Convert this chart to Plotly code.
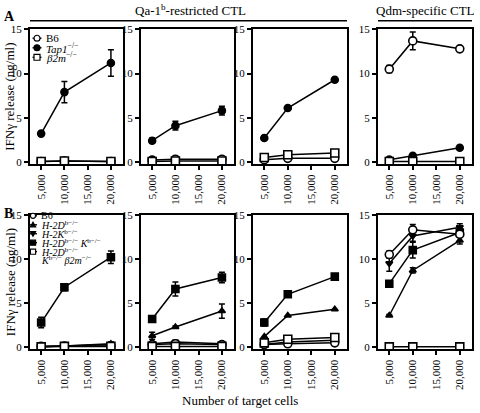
import plotly.graph_objects as go

cells = [5000, 10000, 20000]
x_ticks = [5000, 10000, 15000, 20000]
y_ticks = [0, 5, 10, 15]

# Row A: Qa-1b-restricted CTL (panels 1-3) and Qdm-specific CTL (panel 4)
A_B6 = [[0.05, 0.1, 0.05], [0.2, 0.3, 0.3], [0.25, 0.4, 0.4], [10.5, 13.7, 12.8]]
A_B6_err = [[0, 0, 0], [0.05, 0.05, 0.05], [0, 0, 0], [0.4, 1.0, 0.2]]
A_Tap1 = [[3.2, 7.9, 11.2], [2.4, 4.1, 5.8], [2.7, 6.1, 9.3], [0.25, 0.7, 1.6]]
A_Tap1_err = [[0.1, 1.2, 1.5], [0.3, 0.5, 0.5], [0, 0, 0], [0, 0, 0]]
A_b2m = [[0.05, 0.1, 0.05], [0.05, 0.1, 0.1], [0.5, 0.8, 1.0], [0.05, 0.05, 0.05]]

# Row B
B_B6 = [[0.1, 0.15, 0.15], [0.3, 0.4, 0.3], [0.3, 0.4, 0.5], [10.5, 13.3, 12.8]]
B_B6_err = [[0, 0, 0], [0, 0, 0], [0, 0, 0], [0.4, 0.6, 0.3]]
B_Db = [[0.1, 0.15, 0.4], [1.3, 2.3, 4.1], [1.2, 3.6, 4.3], [3.6, 8.7, 12.1]]
B_Db_err = [[0, 0, 0.2], [0.4, 0.1, 0.8], [0, 0, 0], [0.1, 0.3, 0.4]]
B_Kb = [[0.05, 0.15, 0.3], [0.4, 0.6, 0.4], [0.3, 0.6, 0.8], [9.5, 12.6, 13.6]]
B_Kb_err = [[0, 0, 0], [0.2, 0.2, 0.1], [0, 0, 0], [0.9, 0.6, 0.4]]
B_DbKb = [[2.8, 6.8, 10.2], [3.2, 6.6, 7.9], [2.8, 6.0, 8.0], [7.2, 11.0, 13.0]]
B_DbKb_err = [[0.6, 0.4, 0.7], [0.3, 0.8, 0.6], [0.4, 0.1, 0.1], [0.1, 0.9, 0.5]]
B_triple = [[0.05, 0.1, 0.1], [0.1, 0.1, 0.1], [0.5, 0.9, 1.1], [0.05, 0.05, 0.05]]

names_A = ["B6", "<i>Tap1</i><sup>−/−</sup>", "<i>β2m</i><sup>−/−</sup>"]
names_B = ["B6", "<i>H-2D</i><sup>b−/−</sup>", "<i>H-2K</i><sup>b−/−</sup>",
           "<i>H-2D</i><sup>b−/−</sup> <i>K</i><sup>b−/−</sup>",
           "<i>H-2D</i><sup>b−/−</sup><br><i>K</i><sup>b−/−</sup> <i>β2m</i><sup>−/−</sup>"]

W, H = 480, 413
FONT = "Liberation Serif"
xdom = [(30, 123), (141, 234), (253, 347), (378, 472)]
ydomA = (24, 162)
ydomB = (214, 352)

fig = go.Figure()


def PX(x):
    return x / W


def PY(y):
    return 1 - y / H


def add(idx, y, err, name, symbol, fill, size=7):
    ax = "" if idx == 1 else str(idx)
    fig.add_trace(go.Scatter(
        x=cells, y=y, name=name, mode="lines+markers",
        xaxis="x" + ax, yaxis="y" + ax,
        line=dict(color="black", width=1.5),
        marker=dict(symbol=symbol, size=size, color=fill,
                    line=dict(color="black", width=1.6)),
        error_y=dict(type="data", array=err, color="black", thickness=1.5, width=3,
                     visible=any(e > 0 for e in err)),
        showlegend=False,
    ))


for p in range(4):
    i = p + 1
    add(i, A_Tap1[p], A_Tap1_err[p], names_A[1], "circle", "black", 7)
    add(i, A_B6[p], A_B6_err[p], names_A[0], "circle", "white", 8)
    add(i, A_b2m[p], [0, 0, 0], names_A[2], "square", "white", 8)

for p in range(4):
    i = p + 5
    add(i, B_Db[p], B_Db_err[p], names_B[1], "triangle-up", "black", 6)
    add(i, B_Kb[p], B_Kb_err[p], names_B[2], "triangle-down", "black", 6)
    add(i, B_DbKb[p], B_DbKb_err[p], names_B[3], "square", "black", 7)
    add(i, B_B6[p], B_B6_err[p], names_B[0], "circle", "white", 8)
    add(i, B_triple[p], [0, 0, 0], names_B[4], "square", "white", 8)

axis_common = dict(showline=True, linecolor="black", linewidth=2, mirror=True,
                   ticks="outside", ticklen=4, tickwidth=1.5, tickcolor="black",
                   showgrid=False, zeroline=False,
                   tickfont=dict(family=FONT, size=11, color="black"))

layout = dict(width=W, height=H, margin=dict(l=0, r=0, t=0, b=0),
              paper_bgcolor="white", plot_bgcolor="white",
              font=dict(family=FONT, color="black"), showlegend=False)

for k in range(8):
    i = k + 1
    ax = "" if i == 1 else str(i)
    xd = xdom[k % 4]
    yd = ydomA if k < 4 else ydomB
    layout["xaxis" + ax] = dict(axis_common, domain=[PX(xd[0]), PX(xd[1])], range=[2600, 22600],
                                tickvals=x_ticks, tickformat=",d", tickangle=-90,
                                anchor="y" + ax)
    layout["yaxis" + ax] = dict(axis_common, domain=[PY(yd[1]), PY(yd[0])], range=[-0.25, 15],
                                tickvals=y_ticks, anchor="x" + ax)

fig.update_layout(**layout)

# ---- compact in-panel legends (key glyphs as decoration shapes) ----
shapes = []
ann = []


def key(mx, my, symbol, fill, label, tx, r=2.6, fs=10, half=4):
    shapes.append(dict(type="line", xref="paper", yref="paper",
                       x0=PX(mx - half), x1=PX(mx + half), y0=PY(my), y1=PY(my),
                       line=dict(color="black", width=1.3)))
    st = dict(xref="paper", yref="paper", fillcolor=fill,
              line=dict(color="black", width=1.2))
    if symbol == "circle":
        shapes.append(dict(st, type="circle", x0=PX(mx - r), x1=PX(mx + r),
                           y0=PY(my + r), y1=PY(my - r)))
    elif symbol == "square":
        shapes.append(dict(st, type="rect", x0=PX(mx - r), x1=PX(mx + r),
                           y0=PY(my + r), y1=PY(my - r)))
    elif symbol == "triangle-up":
        path = "M {},{} L {},{} L {},{} Z".format(PX(mx - r), PY(my + r * 0.8),
                                                  PX(mx + r), PY(my + r * 0.8),
                                                  PX(mx), PY(my - r))
        shapes.append(dict(st, type="path", path=path))
    elif symbol == "triangle-down":
        path = "M {},{} L {},{} L {},{} Z".format(PX(mx - r), PY(my - r * 0.8),
                                                  PX(mx + r), PY(my - r * 0.8),
                                                  PX(mx), PY(my + r))
        shapes.append(dict(st, type="path", path=path))
    ann.append(dict(text=label, x=PX(tx), y=PY(my), xref="paper", yref="paper",
                    xanchor="left", yanchor="middle", showarrow=False, align="left",
                    font=dict(family=FONT, size=fs, color="black")))


legA = [("circle", "white"), ("circle", "black"), ("square", "white")]
for j, (sym, fill) in enumerate(legA):
    key(37, 33 + 9.8 * j, sym, fill, names_A[j], 44, r=3.0, fs=11, half=4.5)

legB = [("circle", "white"), ("triangle-up", "black"), ("triangle-down", "black"),
        ("square", "black"), ("square", "white")]
for j, (sym, fill) in enumerate(legB):
    my = 215 + 9.2 * j
    if j == 4:
        key(33, my, sym, fill, "<i>H-2D</i><sup>b−/−</sup>", 39)
        ann.append(dict(text="<i>K</i><sup>b−/−</sup> <i>β2m</i><sup>−/−</sup>",
                        x=PX(39), y=PY(my + 9), xref="paper", yref="paper",
                        xanchor="left", yanchor="middle", showarrow=False,
                        font=dict(family=FONT, size=10, color="black")))
    else:
        key(33, my, sym, fill, names_B[j], 39)

ann.append(dict(text="<b>A</b>", x=PX(2), y=PY(1), xref="paper", yref="paper",
                xanchor="left", yanchor="top", showarrow=False,
                font=dict(family=FONT, size=14)))
ann.append(dict(text="<b>B</b>", x=PX(2), y=PY(203), xref="paper", yref="paper",
                xanchor="left", yanchor="top", showarrow=False,
                font=dict(family=FONT, size=14)))
ann.append(dict(text="Qa-1<sup>b</sup>-restricted CTL", x=PX(190), y=PY(14),
                xref="paper", yref="paper", xanchor="center", yanchor="bottom",
                showarrow=False, font=dict(family=FONT, size=13)))
ann.append(dict(text="Qdm-specific CTL", x=PX(425), y=PY(14),
                xref="paper", yref="paper", xanchor="center", yanchor="bottom",
                showarrow=False, font=dict(family=FONT, size=13)))
for yc in (93, 283):
    ann.append(dict(text="IFNγ release (ng/ml)", x=PX(10), y=PY(yc),
                    xref="paper", yref="paper", xanchor="center", yanchor="middle",
                    textangle=-90, showarrow=False, font=dict(family=FONT, size=13)))
ann.append(dict(text="Number of target cells", x=PX(240), y=PY(404),
                xref="paper", yref="paper", xanchor="center", yanchor="middle",
                showarrow=False, font=dict(family=FONT, size=13)))

shapes.append(dict(type="line", xref="paper", yref="paper", x0=PX(30), x1=PX(347),
                   y0=PY(15), y1=PY(15), line=dict(color="black", width=1.5)))
shapes.append(dict(type="line", xref="paper", yref="paper", x0=PX(378), x1=PX(472),
                   y0=PY(15), y1=PY(15), line=dict(color="black", width=1.5)))

fig.update_layout(annotations=ann, shapes=shapes)

fig.write_html("out.html", config={"displayModeBar": False},
               post_script="document.body.style.margin='0';document.body.style.overflow='hidden';")
